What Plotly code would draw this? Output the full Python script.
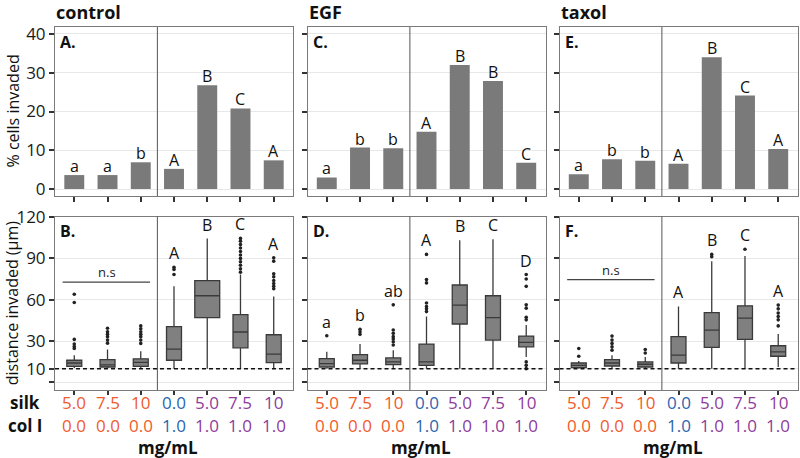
"""Invasion assay: % cells invaded and distance invaded per matrix condition."""

import plotly.graph_objects as go

W, H = 800, 458
FONT = "Open Sans"

# ---- data -------------------------------------------------------------
conditions = ["control", "EGF", "taxol"]
silk_conc = ["5.0", "7.5", "10", "0.0", "5.0", "7.5", "10"]
col_conc = ["0.0", "0.0", "0.0", "1.0", "1.0", "1.0", "1.0"]
label_colors = ["#F15A2B", "#F15A2B", "#F15A2B", "#2B66AE",
                "#8E3B9C", "#8E3B9C", "#8E3B9C"]

# % cells invaded
pct_control = [3.6, 3.6, 6.9, 5.2, 26.8, 20.8, 7.4]
pct_egf = [3.0, 10.7, 10.5, 14.8, 32.0, 27.9, 6.8]
pct_taxol = [3.8, 7.7, 7.3, 6.5, 34.0, 24.1, 10.3]
pct_letters_control = ["a", "a", "b", "A", "B", "C", "A"]
pct_letters_egf = ["a", "b", "b", "A", "B", "B", "C"]
pct_letters_taxol = ["a", "b", "b", "A", "B", "C", "A"]

# distance invaded (um) - box summaries
q1_control = [11.7, 11.2, 11.7, 16.1, 47.0, 25.1, 14.4]
med_control = [14.1, 12.7, 14.6, 24.1, 62.9, 36.6, 20.5]
q3_control = [16.1, 16.6, 17.1, 40.5, 73.9, 49.2, 34.6]
lo_control = [10.5, 10.2, 10.3, 10.0, 10.0, 10.0, 10.2]
hi_control = [19.8, 23.9, 22.7, 69.7, 104.4, 78.3, 62.4]
out_control = [
    [24.6, 26.0, 27.8, 31.2, 58.0, 64.0],
    [28.5, 30.7, 33.2, 35.0, 36.8, 39.3],
    [28.3, 30.7, 33.2, 35.0, 36.8, 39.0, 41.0],
    [78.3, 82.0, 83.6],
    [],
    [80.0, 82.5, 85.0, 87.5, 90.0, 92.5, 95.0, 97.5, 100.0, 102.5, 104.5],
    [68.0, 69.7, 71.7, 73.9, 76.6, 78.8, 88.0, 90.5],
]
width_control = [0.45, 0.45, 0.45, 0.45, 0.75, 0.45, 0.45]

q1_egf = [11.2, 13.4, 12.9, 12.4, 42.4, 30.7, 25.8]
med_egf = [13.7, 16.1, 14.9, 14.9, 56.1, 47.0, 29.0]
q3_egf = [17.3, 20.2, 17.8, 27.8, 70.7, 62.9, 33.6]
lo_egf = [10.0, 10.0, 10.0, 10.0, 10.0, 10.0, 18.5]
hi_egf = [22.2, 27.8, 23.4, 47.8, 103.1, 103.9, 41.7]
out_egf = [
    [33.9],
    [34.9, 36.8, 38.5],
    [27.1, 29.5, 31.5, 33.2, 35.6, 38.0, 56.3],
    [51.4, 53.5, 55.1, 57.6, 72.2, 74.6, 92.9],
    [],
    [],
    [10.0, 12.4, 14.9, 45.4, 47.3, 53.9, 56.3, 69.7, 75.1, 78.3],
]
width_egf = [0.45] * 7

q1_taxol = [10.7, 11.9, 11.2, 14.1, 25.4, 31.2, 19.0]
med_taxol = [12.4, 14.1, 13.2, 19.8, 38.0, 46.6, 22.2]
q3_taxol = [14.1, 16.6, 14.9, 33.2, 50.7, 55.6, 26.6]
lo_taxol = [10.0, 10.0, 10.0, 10.0, 10.0, 10.0, 11.2]
hi_taxol = [15.5, 19.8, 18.5, 55.1, 88.0, 91.7, 35.1]
out_taxol = [
    [19.0, 24.6],
    [23.4, 25.8, 28.3, 30.7, 33.6],
    [21.4, 23.9],
    [],
    [91.2, 92.9],
    [96.6],
    [41.0, 45.4, 47.8, 50.3, 53.4, 56.1],
]
width_taxol = [0.45] * 7

dist_letters_control = ["", "", "", "A", "B", "C", "A"]
dist_letters_egf = ["a", "b", "ab", "A", "B", "C", "D"]
dist_letters_taxol = ["", "", "", "A", "B", "C", "A"]
ns_level = [72.8, None, 74.6]   # n.s. bar height per condition

# ---- layout helpers ---------------------------------------------------
col_px = [(55, 293), (307.5, 545.5), (559.5, 797.5)]
top_px = (27, 196)
bot_px = (216.5, 390)


def px_x(p):
    return p / W


def px_y(p):
    return 1 - p / H


def note(**kw):
    """Annotation with centred anchors unless told otherwise."""
    base = dict(showarrow=False, xanchor="center", yanchor="middle", borderpad=0)
    base.update(kw)
    return base


BAR = "#7a7a7a"
GRID = "#e8e8e8"
BORDER = "#7a7a7a"

fig = go.Figure()
layout = dict(
    width=W, height=H,
    margin=dict(l=0, r=0, t=0, b=0, pad=0, autoexpand=False),
    autosize=False,
    plot_bgcolor="white", paper_bgcolor="white",
    showlegend=False, boxmode="overlay",
    font=dict(family=FONT, color="#222", size=16),
)
annotations = []
shapes = []

pcts = [pct_control, pct_egf, pct_taxol]
pct_letters = [pct_letters_control, pct_letters_egf, pct_letters_taxol]
box_stats = [
    (q1_control, med_control, q3_control, lo_control, hi_control, out_control, width_control),
    (q1_egf, med_egf, q3_egf, lo_egf, hi_egf, out_egf, width_egf),
    (q1_taxol, med_taxol, q3_taxol, lo_taxol, hi_taxol, out_taxol, width_taxol),
]
dist_letters = [dist_letters_control, dist_letters_egf, dist_letters_taxol]
panel_tags = [("A.", "B."), ("C.", "D."), ("E.", "F.")]
xs = list(range(7))

for c in range(3):
    ti, bi = c + 1, c + 4
    tx, ty = f"x{ti if ti > 1 else ''}", f"y{ti if ti > 1 else ''}"
    bx, by = f"x{bi}", f"y{bi}"
    dom_x = [px_x(col_px[c][0]), px_x(col_px[c][1])]

    common_x = dict(
        domain=dom_x, range=[-0.58, 6.58], tickvals=xs, showticklabels=False,
        ticks="outside", ticklen=5, tickwidth=1.5, tickcolor="#333",
        showgrid=False, zeroline=False, showline=True, mirror=True,
        linecolor=BORDER, linewidth=1, fixedrange=True, automargin=False,
    )
    layout[f"xaxis{ti if ti > 1 else ''}"] = dict(common_x, anchor=ty)
    layout[f"xaxis{bi}"] = dict(common_x, anchor=by, ticklen=4)

    common_y = dict(
        ticks="outside", ticklen=5, tickwidth=1.5, tickcolor="#333",
        showgrid=True, gridcolor=GRID, gridwidth=1.2, zeroline=False,
        showline=True, mirror=True, linecolor=BORDER, linewidth=1,
        showticklabels=(c == 0), tickfont=dict(size=17, color="#1a1a1a"),
        automargin=False, fixedrange=True,
    )
    layout[f"yaxis{ti if ti > 1 else ''}"] = dict(
        common_y, anchor=tx, domain=[px_y(top_px[1]), px_y(top_px[0])],
        range=[-1.8, 41.8], tickvals=[0, 10, 20, 30, 40],
    )
    layout[f"yaxis{bi}"] = dict(
        common_y, anchor=bx, domain=[px_y(bot_px[1]), px_y(bot_px[0])],
        range=[-5.5, 120.4], tickvals=[0, 10, 30, 60, 90, 120],
        ticktext=["", "10", "30", "60", "90", "120"],
    )

    # % cells invaded bars
    fig.add_trace(go.Bar(
        x=xs, y=pcts[c], width=0.6, marker_color=BAR,
        marker_line_width=0, xaxis=tx, yaxis=ty,
    ))
    for i, (v, lab) in enumerate(zip(pcts[c], pct_letters[c])):
        annotations.append(note(
            x=i, y=v, xref=tx, yref=ty, text=lab,
            yanchor="bottom", yshift=-3, font=dict(size=16, color="#111"),
        ))

    # distance invaded boxes
    q1, med, q3, lo, hi, outs, wid = box_stats[c]
    for i in xs:
        fig.add_trace(go.Box(
            x=[i], q1=[q1[i]], median=[med[i]], q3=[q3[i]],
            lowerfence=[lo[i]], upperfence=[hi[i]], width=wid[i],
            fillcolor="#808080", line=dict(color="#3a3a3a", width=1.3),
            whiskerwidth=0, boxpoints=False, xaxis=bx, yaxis=by,
        ))
        if outs[i]:
            fig.add_trace(go.Scatter(
                x=[i] * len(outs[i]), y=outs[i], mode="markers",
                marker=dict(size=3.6, color="#222"), xaxis=bx, yaxis=by,
            ))
        lab = dist_letters[c][i]
        if lab:
            top = max([hi[i]] + outs[i])
            annotations.append(note(
                x=i, y=top, xref=bx, yref=by, text=lab,
                yanchor="bottom", yshift=2, font=dict(size=16, color="#111"),
            ))

    if ns_level[c] is not None:
        shapes.append(dict(type="line", xref=bx, yref=by, x0=-0.35, x1=2.28,
                           y0=ns_level[c], y1=ns_level[c],
                           line=dict(color="#444", width=1.2)))
        annotations.append(note(x=0.97, y=ns_level[c], xref=bx, yref=by,
                                text="n.s", yanchor="bottom",
                                font=dict(size=13, color="#222")))

    # threshold line and group dividers
    shapes.append(dict(type="line", xref=f"{bx} domain", yref=by, x0=0, x1=1,
                       y0=10, y1=10,
                       line=dict(color="#111", width=1.5, dash="4px,3px")))
    for ax_x, ax_y in ((tx, ty), (bx, by)):
        shapes.append(dict(type="line", xref=ax_x, yref=f"{ax_y} domain",
                           x0=2.5, x1=2.5, y0=0, y1=1,
                           line=dict(color="#555", width=1)))

    # titles and panel tags
    annotations.append(note(x=dom_x[0], y=px_y(12), xref="paper", yref="paper",
                            text=f"<b>{conditions[c]}</b>", xanchor="left",
                            font=dict(size=18, color="#111")))
    for tag, ypx in zip(panel_tags[c], (42, 231)):
        annotations.append(note(x=px_x(col_px[c][0] + 4), y=px_y(ypx),
                                xref="paper", yref="paper", text=f"<b>{tag}</b>",
                                xanchor="left", font=dict(size=16, color="#111")))

    # concentration labels under the bottom panels
    for i in xs:
        annotations.append(note(x=i, y=px_y(402), xref=bx, yref="paper",
                                text=silk_conc[i],
                                font=dict(size=17, color=label_colors[i])))
        annotations.append(note(x=i, y=px_y(425), xref=bx, yref="paper",
                                text=col_conc[i],
                                font=dict(size=17, color=label_colors[i])))
    annotations.append(note(x=px_x((col_px[c][0] + col_px[c][1]) / 2 - 6),
                            y=px_y(447), xref="paper", yref="paper",
                            text="<b>mg/mL</b>", font=dict(size=17, color="#111")))

# row labels and y-axis titles
annotations.append(note(x=px_x(25), y=px_y(402), xref="paper", yref="paper",
                        text="<b>silk</b>", font=dict(size=17, color="#111")))
annotations.append(note(x=px_x(25), y=px_y(425), xref="paper", yref="paper",
                        text="<b>col I</b>", font=dict(size=17, color="#111")))
annotations.append(note(x=px_x(12), y=px_y(sum(top_px) / 2), xref="paper",
                        yref="paper", text="% cells invaded", textangle=-90,
                        font=dict(size=16, color="#111")))
annotations.append(note(x=px_x(12), y=px_y(sum(bot_px) / 2), xref="paper",
                        yref="paper", text="distance invaded (µm)", textangle=-90,
                        font=dict(size=16, color="#111")))

layout["annotations"] = annotations
layout["shapes"] = shapes
fig.update_layout(**layout)

# drop the browser's default body margin so the figure sits at the page origin
fig.write_html("out.html", config={"displayModeBar": False},
               post_script="document.body.style.margin = '0';")
